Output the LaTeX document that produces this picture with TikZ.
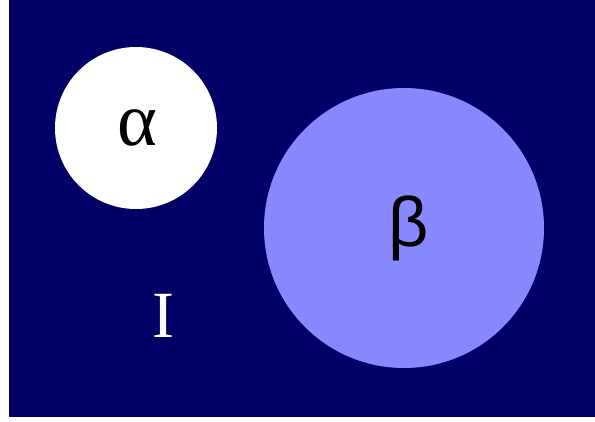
\documentclass[tikz,border=0pt]{standalone}
\usepackage{fontspec}
\setmainfont{Liberation Serif}
\setsansfont{Liberation Sans}
\usepackage{xcolor}
\usepackage{tikz}
\definecolor{setnavy}{RGB}{0,0,102}
\definecolor{setblue}{RGB}{136,136,255}

\begin{document}
\begin{tikzpicture}[x=1pt,y=-1pt,
  setcircle/.style={circle,inner sep=0pt,text=black}]
  \useasboundingbox (0,0) rectangle (595,421);
  \fill[white] (0,0) rectangle (595,421);
  \fill[setnavy] (9,0) rectangle (595,417);
  \node[setcircle,fill=white,minimum size=162pt] (alpha) at (136,128) {\hspace{3pt}\fontsize{76}{80}\selectfont α};
  \node[setcircle,fill=setblue,minimum size=280pt] (beta) at (404,228) {\hspace{10pt}\sffamily\fontsize{70}{74}\selectfont β};
  \node[text=white] (univ) at (163,316) {\fontsize{66}{70}\selectfont I};
\end{tikzpicture}
\end{document}
